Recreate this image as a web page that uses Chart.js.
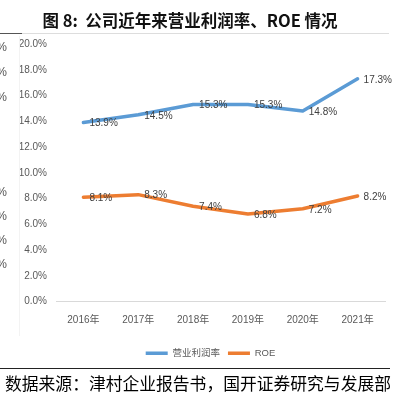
<!DOCTYPE html>
<html>
<head>
<meta charset="utf-8">
<script src="https://cdn.jsdelivr.net/npm/chart.js@4.4.1/dist/chart.umd.min.js"></script>
<style>
  html, body { margin: 0; padding: 0; background: #fff; }
  body { width: 404px; height: 398px; position: relative; overflow: hidden; }
  #wrap { position: absolute; left: 0; top: 0; width: 404px; height: 398px; }
  .abs { position: absolute; white-space: nowrap; }
  #title { left: 0; width: 380px; top: 9px; text-align: center; font: bold 16.5px "Noto Sans CJK SC", sans-serif; color: #111; line-height: 22px; }
  #src { left: 5px; top: 372px; font: 16.8px "Noto Sans CJK SC", sans-serif; color: #000; line-height: 22px; }
  .frag { font: 12px "Liberation Sans", sans-serif; color: #555; right: 397px; }
</style>
</head>
<body>
<div id="wrap"><canvas id="c" width="404" height="398"></canvas></div>
<div class="abs" id="title">图 8:&nbsp; 公司近年来营业利润率、ROE 情况</div>
<div class="abs" style="left:0;top:33px;width:22px;height:1px;background:#555"></div>
<div class="abs" style="left:22px;top:33px;width:367px;height:1px;background:#ddd"></div>
<div class="abs" style="left:19px;top:36px;width:1px;height:300px;background:#f3f3f3"></div>
<div class="abs" style="left:0;top:368px;width:390px;height:1px;background:#222"></div>
<div class="abs" id="src">数据来源：津村企业报告书，国开证券研究与发展部</div>
<div class="abs frag" style="top:40px">%</div>
<div class="abs frag" style="top:65px">%</div>
<div class="abs frag" style="top:90px">%</div>
<div class="abs frag" style="top:185px">%</div>
<div class="abs frag" style="top:209px">%</div>
<div class="abs frag" style="top:233px">%</div>
<div class="abs frag" style="top:257px">%</div>
<script>
const categories = ["2016年", "2017年", "2018年", "2019年", "2020年", "2021年"];
const operatingMargin = [13.9, 14.5, 15.3, 15.3, 14.8, 17.3];
const roe = [8.1, 8.3, 7.4, 6.8, 7.2, 8.2];
const seriesNames = ["营业利润率", "ROE"];
const yTicks = [0, 2, 4, 6, 8, 10, 12, 14, 16, 18, 20];

const FAM = "'Liberation Sans', 'Noto Sans CJK SC', sans-serif";

const labelPlugin = {
  id: 'pointLabels',
  afterDatasetsDraw(chart) {
    const ctx = chart.ctx;
    ctx.save();
    ctx.font = "10px " + FAM;
    ctx.fillStyle = "#404040";
    ctx.textAlign = "left";
    ctx.textBaseline = "middle";
    chart.data.datasets.forEach((ds, i) => {
      const meta = chart.getDatasetMeta(i);
      meta.data.forEach((pt, j) => {
        ctx.fillText(ds.data[j].toFixed(1) + "%", pt.x + 6, pt.y + 1);
      });
    });
    ctx.restore();
  }
};

// nudge the legend so it sits where the reference's legend does
const legendShift = {
  id: 'legendShift',
  afterLayout(chart) {
    if (chart.legend) { chart.legend.left += 18; chart.legend.right += 18; }
  }
};

new Chart(document.getElementById('c'), {
  type: 'line',
  data: {
    labels: categories,
    datasets: [
      { label: seriesNames[0], data: operatingMargin, borderColor: '#5B9BD5', backgroundColor: '#5B9BD5', borderWidth: 3.5, pointRadius: 0, tension: 0, borderCapStyle: 'round', borderJoinStyle: 'round' },
      { label: seriesNames[1], data: roe, borderColor: '#ED7D31', backgroundColor: '#ED7D31', borderWidth: 3.5, pointRadius: 0, tension: 0, borderCapStyle: 'round', borderJoinStyle: 'round' }
    ]
  },
  options: {
    responsive: false,
    animation: false,
    events: [],
    layout: { padding: { top: 44, right: 19, bottom: 30, left: 0 } },
    plugins: {
      title: { display: false },
      tooltip: { enabled: false },
      legend: {
        position: 'bottom',
        labels: {
          usePointStyle: true,
          pointStyle: 'line',
          pointStyleWidth: 22,
          boxHeight: 10,
          padding: 8,
          color: '#595959',
          font: { size: 9.5, family: FAM }
        }
      }
    },
    scales: {
      x: {
        offset: true,
        grid: { display: false, drawTicks: false, offset: true },
        border: { display: true, color: '#D9D9D9', width: 1 },
        ticks: { color: '#595959', font: { size: 10, family: FAM }, padding: 13, maxRotation: 0 },
        afterFit(scale) { scale.height = 39; }
      },
      y: {
        min: 0, max: 20,
        afterBuildTicks(scale) { scale.ticks = yTicks.map(v => ({ value: v })); },
        grid: { display: false, drawTicks: false },
        border: { display: false },
        ticks: { color: '#595959', font: { size: 10, family: FAM }, padding: 9, callback: v => v.toFixed(1) + '%' },
        afterFit(scale) { scale.width = 56; }
      }
    }
  },
  plugins: [labelPlugin, legendShift]
});
</script>
</body>
</html>
